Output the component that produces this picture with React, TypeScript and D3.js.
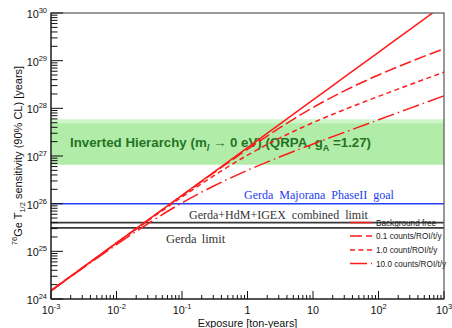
import React from "react";
import * as d3 from "d3";

const W = 452;
const H = 328;

// Exposure [ton-years] sampled points
const exposure = [0.001, 0.01, 0.03, 0.1, 0.3, 1, 3, 10, 30, 100, 300, 1000];
// Sensitivity [years] for each background level
const bgFree = [1.5e24, 1.5e25, 4.5e25, 1.5e26, 4.5e26, 1.5e27, 4.5e27, 1.5e28, 4.5e28, 1.5e29, 4.5e29, 1.5e30];
const bg01 = [1.5e24, 1.5e25, 4.47e25, 1.48e26, 4.35e26, 1.38e27, 3.78e27, 1.04e28, 2.32e28, 5.01e28, 9.38e28, 1.78e29];
const bg1 = [1.5e24, 1.48e25, 4.35e25, 1.38e26, 3.78e26, 1.04e27, 2.32e27, 5.01e27, 9.38e27, 1.78e28, 3.13e28, 5.75e28];
const bg10 = [1.48e24, 1.38e25, 3.78e25, 1.04e26, 2.32e26, 5.01e26, 9.38e26, 1.78e27, 3.13e27, 5.75e27, 1.0e28, 1.83e28];

const seriesNames = ["Background free", "0.1 counts/ROI/t/y", "1.0 count/ROI/t/y", "10.0 counts/ROI/t/y"];
const seriesValues = [bgFree, bg01, bg1, bg10];
const seriesDash = ["none", "12,4", "5,3.5", "17,4,1.5,4"];

// Horizontal reference limits
const gerdaGoal = 1.0e26;
const combinedLimit = 4.0e25;
const gerdaLimit = 3.1e25;

// Inverted hierarchy band
const ihLow = 6.6e26;
const ihHigh = 5.9e27;
const ihInnerHigh = 4.85e27;

const xTickLabels = [
  { v: 1e-3, base: "10", exp: "-3" },
  { v: 1e-2, base: "10", exp: "-2" },
  { v: 1e-1, base: "10", exp: "-1" },
  { v: 1, base: "1", exp: "" },
  { v: 10, base: "10", exp: "" },
  { v: 100, base: "10", exp: "2" },
  { v: 1000, base: "10", exp: "3" },
];
const yTickLabels = [
  { v: 1e24, exp: "24" },
  { v: 1e25, exp: "25" },
  { v: 1e26, exp: "26" },
  { v: 1e27, exp: "27" },
  { v: 1e28, exp: "28" },
  { v: 1e29, exp: "29" },
  { v: 1e30, exp: "30" },
];

const L = 51, R = 444, T = 13, B = 299;

export default function App() {
  const x = d3.scaleLog().domain([1e-3, 1e3]).range([L, R]);
  const y = d3.scaleLog().domain([1e24, 1e30]).range([B, T]);
  const sans = "'Liberation Sans', Arial, Helvetica, sans-serif";
  const serif = "'Liberation Serif', 'Times New Roman', serif";

  const line = d3
    .line<number>()
    .x((_, i) => x(exposure[i]))
    .y((d) => y(d))
    .curve(d3.curveMonotoneX);

  const xt = x.ticks();
  const yt = y.ticks();
  const isMajor = (v: number) => Math.abs(Math.log10(v) - Math.round(Math.log10(v))) < 1e-6;

  const legendY = [222.5, 236, 250, 263.5];

  return (
    <svg width={W} height={H} style={{ position: "absolute", left: 0, top: 0, background: "#fff" }}>
      <defs>
        <clipPath id="plot">
          <rect x={L} y={T} width={R - L} height={B - T} />
        </clipPath>
      </defs>
      <rect x={0} y={0} width={W} height={H} fill="#fff" />
      {/* band */}
      <rect x={L} y={y(ihHigh)} width={R - L} height={y(ihLow) - y(ihHigh)} fill="#cdf7c9" />
      <rect x={L} y={y(ihInnerHigh)} width={R - L} height={y(ihLow) - y(ihInnerHigh)} fill="#b2eca9" />
      <text x={70} y={147} fontFamily={sans} fontWeight="bold" fontSize={13.3} fill="#237423">
        Inverted Hierarchy (m
        <tspan dy={4} fontSize={9} fontStyle="italic">l</tspan>
        <tspan dy={-4}> {"\u2192"} 0 eV) (QRPA, g</tspan>
        <tspan dy={4} fontSize={9}>A</tspan>
        <tspan dy={-4}> =1.27)</tspan>
      </text>

      {/* horizontal lines */}
      <line x1={L} x2={R} y1={y(gerdaGoal)} y2={y(gerdaGoal)} stroke="#2240ee" strokeWidth={1.5} />
      <line x1={L} x2={R} y1={y(combinedLimit)} y2={y(combinedLimit)} stroke="#3a3a3a" strokeWidth={1.6} />
      <line x1={L} x2={R} y1={y(gerdaLimit)} y2={y(gerdaLimit)} stroke="#3a3a3a" strokeWidth={1.6} />
      <text x={244} y={199} fontFamily={serif} fontSize={12} fill="#2240ee" wordSpacing={3}>
        Gerda Majorana PhaseII goal
      </text>
      <text x={189} y={219} fontFamily={serif} fontSize={12} fill="#333" wordSpacing={3}>
        Gerda+HdM+IGEX  combined limit
      </text>
      <text x={166} y={243} fontFamily={serif} fontSize={12.5} fill="#333" wordSpacing={2}>
        Gerda limit
      </text>

      {/* curves */}
      <g clipPath="url(#plot)">
        {seriesValues.map((vals, i) => (
          <path
            key={i}
            d={line(vals) || ""}
            fill="none"
            stroke="#ff1a1a"
            strokeWidth={1.5}
            strokeDasharray={seriesDash[i]}
          />
        ))}
      </g>

      {/* legend */}
      {seriesNames.map((name, i) => (
        <g key={name}>
          <line x1={350} x2={372} y1={legendY[i]} y2={legendY[i]} stroke="#ff1a1a" strokeWidth={1.5} strokeDasharray={seriesDash[i]} />
          <text x={376} y={legendY[i] + 3} fontFamily={sans} fontSize={8.2} fill="#222">
            {name}
          </text>
        </g>
      ))}

      {/* frame */}
      <rect x={L} y={T} width={R - L} height={B - T} fill="none" stroke="#555" strokeWidth={1.2} />
      <line x1={L} x2={L} y1={T} y2={B} stroke="#111" strokeWidth={1} />
      <line x1={L} x2={R} y1={B} y2={B} stroke="#111" strokeWidth={1} />

      {/* ticks */}
      {xt.map((v, i) => (
        <line key={"xt" + i} x1={x(v)} x2={x(v)} y1={B} y2={B - (isMajor(v) ? 8 : 4)} stroke="#111" strokeWidth={1} />
      ))}
      {yt.map((v, i) => (
        <line key={"yt" + i} x1={L} x2={L + (isMajor(v) ? 12 : 6.5)} y1={y(v)} y2={y(v)} stroke="#111" strokeWidth={1} />
      ))}

      {/* tick labels */}
      {xTickLabels.map((t) => (
        <text key={"xl" + t.v} x={x(t.v)} y={313.5} textAnchor="middle" fontFamily={sans} fontSize={10.8} fill="#111">
          {t.base}
          {t.exp && (
            <tspan dy={-5} fontSize={7.5}>
              {t.exp}
            </tspan>
          )}
        </text>
      ))}
      {yTickLabels.map((t) => (
        <text key={"yl" + t.v} x={47} y={y(t.v) + 5} textAnchor="end" fontFamily={sans} fontSize={10.8} fill="#111">
          10
          <tspan dy={-5} fontSize={7.5}>
            {t.exp}
          </tspan>
        </text>
      ))}

      {/* axis titles */}
      <text x={(L + R) / 2} y={326.5} textAnchor="middle" fontFamily={sans} fontSize={10.8} fill="#111">
        Exposure [ton-years]
      </text>
      <text transform={`translate(22,155.5) rotate(-90)`} textAnchor="middle" fontFamily={sans} fontSize={11} fill="#111">
        <tspan dy={-5} fontSize={7.5}>76</tspan>
        <tspan dy={5}>Ge T</tspan>
        <tspan dy={3} fontSize={7.5}>1/2</tspan>
        <tspan dy={-3}> sensitivity (90% CL) [years]</tspan>
      </text>
    </svg>
  );
}
